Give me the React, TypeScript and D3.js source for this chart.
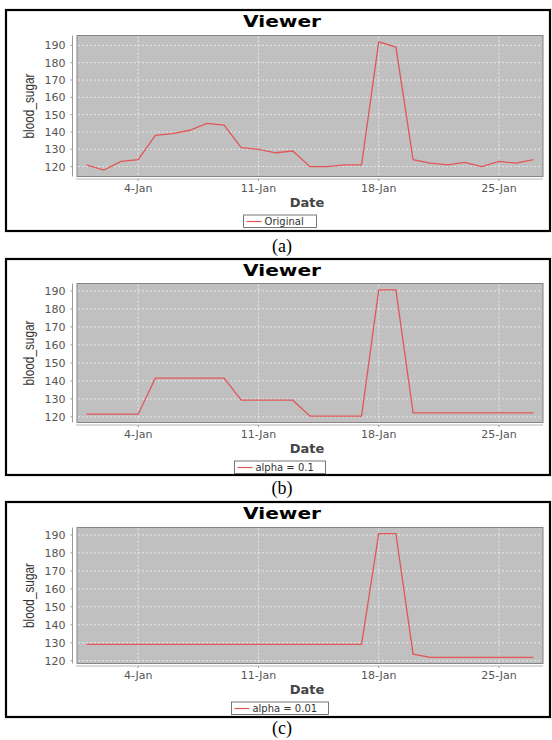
import * as d3 from "d3";
import { useRef, useEffect } from "react";

// days of January 2010 shown on the x axis
const janDays = [1, 2, 3, 4, 5, 6, 7, 8, 9, 10, 11, 12, 13, 14, 15, 16, 17, 18, 19, 20, 21, 22, 23, 24, 25, 26, 27];

// series
const original = [121, 118, 123, 124, 138, 139, 141, 145, 144, 131, 130, 128, 129, 120, 120, 121, 121, 192, 189, 124, 122, 121, 122.5, 120, 123, 122, 124];
const alpha01 = [121.5, 121.5, 121.5, 121.5, 141.5, 141.5, 141.5, 141.5, 141.5, 129.3, 129.3, 129.3, 129.3, 120.4, 120.4, 120.4, 120.4, 190.6, 190.6, 122.2, 122.2, 122.2, 122.2, 122.2, 122.2, 122.2, 122.2];
const alpha001 = [129.1, 129.1, 129.1, 129.1, 129.1, 129.1, 129.1, 129.1, 129.1, 129.1, 129.1, 129.1, 129.1, 129.1, 129.1, 129.1, 129.1, 190.7, 190.7, 123.7, 121.9, 121.9, 121.9, 121.9, 121.9, 121.9, 121.9];

const legendNames = ["Original", "alpha = 0.1", "alpha = 0.01"];
const captions = ["(a)", "(b)", "(c)"];
const xTickDays = [4, 11, 18, 25];
const yTicks = [120, 130, 140, 150, 160, 170, 180, 190];

const W = 552;
const H = 740;

// frame geometry of each panel (border and plot area in px)
const frames = [
    { top: 10, bottom: 231, plotTop: 35.5, plotBottom: 176.5, capY: 251.5 },
    { top: 259, bottom: 475, plotTop: 283.5, plotBottom: 422.5, capY: 494 },
    { top: 502, bottom: 717, plotTop: 527.5, plotBottom: 663.5, capY: 734 },
];

const App = () => {
    const chartRef = useRef<SVGSVGElement | null>(null);

    useEffect(() => {
        const svg = d3.select(chartRef.current);
        svg.selectAll("*").remove();

        const series = [original, alpha01, alpha001];
        const dates = janDays.map(d => new Date(2010, 0, d));
        const plotLeft = 77;
        const plotRight = 543;

        // same time axis for all three, with a half-day pad on both ends
        const dayMs = 24 * 3600 * 1000;
        const scaleX = d3.scaleTime()
            .domain([new Date(+dates[0] - 0.56 * dayMs), new Date(+dates[dates.length - 1] + 0.56 * dayMs)])
            .range([plotLeft, plotRight]);
        const fmt = d3.timeFormat("%-d-%b");

        frames.forEach((f, i) => {
            const values = series[i];
            const g = svg.append("g");

            // outer black frame
            g.append("rect")
                .attr("x", 6).attr("y", f.top)
                .attr("width", 544).attr("height", f.bottom - f.top)
                .attr("fill", "white").attr("stroke", "black").attr("stroke-width", 2.2);

            // title
            g.append("text")
                .attr("x", 282).attr("y", f.top + 17)
                .attr("text-anchor", "middle")
                .attr("font-family", "DejaVu Sans").attr("font-weight", "bold")
                .attr("font-size", 16)
                .attr("textLength", 78).attr("lengthAdjust", "spacingAndGlyphs")
                .text("Viewer");

            // auto range like jfreechart: 5% margin above and below
            const [min, max] = d3.extent(values) as [number, number];
            const pad = (max - min) * 0.05;
            const scaleY = d3.scaleLinear()
                .domain([min - pad, max + pad])
                .range([f.plotBottom, f.plotTop]);

            g.append("rect")
                .attr("x", plotLeft).attr("y", f.plotTop)
                .attr("width", plotRight - plotLeft).attr("height", f.plotBottom - f.plotTop)
                .attr("fill", "#c0c0c0").attr("stroke", "#858585").attr("stroke-width", 1);

            const xTicks = xTickDays.map(d => new Date(2010, 0, d));

            // grid
            g.selectAll(".hgrid").data(yTicks).enter().append("line")
                .attr("x1", plotLeft + 1).attr("x2", plotRight - 1)
                .attr("y1", d => scaleY(d)).attr("y2", d => scaleY(d))
                .attr("stroke", "#f2f2f2").attr("stroke-width", 0.8).attr("stroke-dasharray", "2,2");
            g.selectAll(".vgrid").data(xTicks).enter().append("line")
                .attr("x1", d => scaleX(d)).attr("x2", d => scaleX(d))
                .attr("y1", f.plotTop + 1).attr("y2", f.plotBottom - 1)
                .attr("stroke", "#f2f2f2").attr("stroke-width", 0.8).attr("stroke-dasharray", "2,2");

            // axes (offset a bit from the plot, as in the picture)
            const yAxisX = plotLeft - 4.5;
            g.append("line")
                .attr("x1", yAxisX).attr("x2", yAxisX)
                .attr("y1", f.plotTop).attr("y2", f.plotBottom)
                .attr("stroke", "#9a9a9a").attr("stroke-width", 1);
            g.selectAll(".ytick").data(yTicks).enter().append("line")
                .attr("x1", yAxisX - 2).attr("x2", yAxisX)
                .attr("y1", d => scaleY(d)).attr("y2", d => scaleY(d))
                .attr("stroke", "#9a9a9a");
            g.selectAll(".ylab").data(yTicks).enter().append("text")
                .attr("x", yAxisX - 7).attr("y", d => scaleY(d) + 4)
                .attr("text-anchor", "end")
                .attr("font-family", "DejaVu Sans").attr("font-size", 11)
                .attr("fill", "#555")
                .text(d => d);

            const xAxisY = f.plotBottom + 2.5;
            g.append("line")
                .attr("x1", plotLeft - 1).attr("x2", plotRight)
                .attr("y1", xAxisY).attr("y2", xAxisY)
                .attr("stroke", "#b5b5b5").attr("stroke-width", 1.2);
            g.selectAll(".xtick").data(xTicks).enter().append("line")
                .attr("x1", d => scaleX(d)).attr("x2", d => scaleX(d))
                .attr("y1", xAxisY).attr("y2", xAxisY + 2)
                .attr("stroke", "#9a9a9a");
            g.selectAll(".xlab").data(xTicks).enter().append("text")
                .attr("x", d => scaleX(d)).attr("y", f.plotBottom + 15.5)
                .attr("text-anchor", "middle")
                .attr("font-family", "DejaVu Sans").attr("font-size", 11)
                .attr("fill", "#555")
                .text(d => fmt(d));

            // axis titles
            g.append("text")
                .attr("x", (plotLeft + plotRight) / 2 - 3).attr("y", f.plotBottom + 30.5)
                .attr("text-anchor", "middle")
                .attr("font-family", "DejaVu Sans").attr("font-weight", "bold")
                .attr("font-size", 13).attr("fill", "#444")
                .text("Date");
            const midY = (f.plotTop + f.plotBottom) / 2;
            g.append("text")
                .attr("transform", `translate(34, ${midY}) rotate(-90)`)
                .attr("text-anchor", "middle")
                .attr("font-family", "Liberation Sans").attr("font-size", 14)
                .attr("textLength", 65).attr("lengthAdjust", "spacingAndGlyphs")
                .attr("fill", "#333")
                .text("blood_sugar");

            // the series line
            const line = d3.line<number>()
                .x((_, k) => scaleX(dates[k]))
                .y(d => scaleY(d));
            g.append("path")
                .datum(values)
                .attr("d", line)
                .attr("fill", "none")
                .attr("stroke", "#e25656")
                .attr("stroke-width", 1.3);

            // legend
            const name = legendNames[i];
            const textW = name.length * 6.1;
            const boxW = 24 + textW;
            const boxX = 280 - boxW / 2;
            const boxY = f.plotBottom + 38.5;
            g.append("rect")
                .attr("x", boxX).attr("y", boxY)
                .attr("width", boxW).attr("height", 12.5)
                .attr("fill", "white").attr("stroke", "#555").attr("stroke-width", 0.8);
            g.append("line")
                .attr("x1", boxX + 3).attr("x2", boxX + 18)
                .attr("y1", boxY + 6.5).attr("y2", boxY + 6.5)
                .attr("stroke", "#e25656").attr("stroke-width", 1.2);
            g.append("text")
                .attr("x", boxX + 21).attr("y", boxY + 10)
                .attr("font-family", "DejaVu Sans").attr("font-size", 10)
                .attr("fill", "#333")
                .text(name);

            // panel caption
            g.append("text")
                .attr("x", 282).attr("y", f.capY)
                .attr("text-anchor", "middle")
                .attr("font-family", "Liberation Serif").attr("font-size", 18)
                .text(captions[i]);
        });
    }, []);

    return (
        <svg ref={chartRef} width={W} height={H}
             style={{ position: "absolute", left: 0, top: 0, background: "white" }}>
        </svg>
    );
};

export default App;
